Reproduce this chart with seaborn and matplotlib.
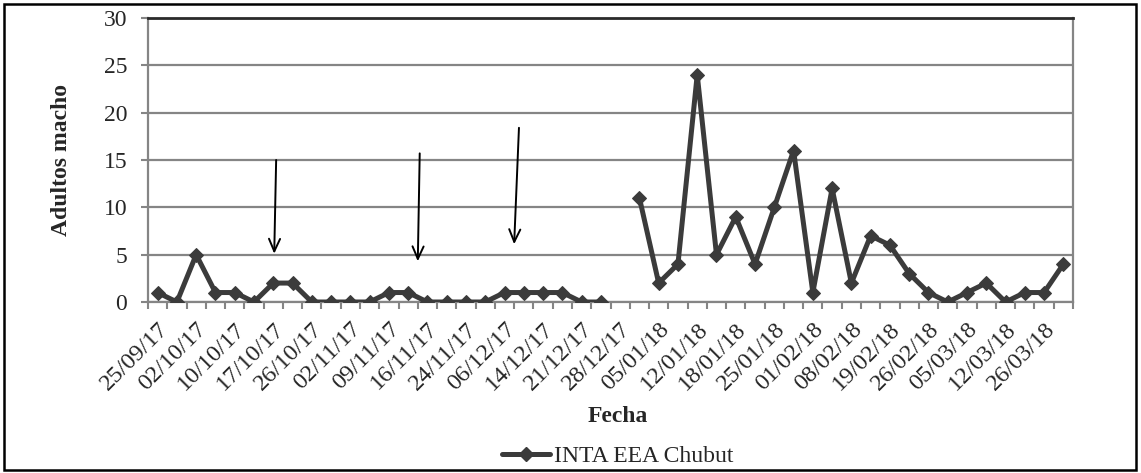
import numpy as np
import pandas as pd
import matplotlib
matplotlib.use("Agg")
import matplotlib.pyplot as plt
from matplotlib.lines import Line2D
from matplotlib.patches import Rectangle
import seaborn as sns

# Fechas rotuladas (una de cada dos fechas de muestreo)
etiquetas = ["25/09/17", "02/10/17", "10/10/17", "17/10/17", "26/10/17", "02/11/17",
             "09/11/17", "16/11/17", "24/11/17", "06/12/17", "14/12/17", "21/12/17",
             "28/12/17", "05/01/18", "12/01/18", "18/01/18", "25/01/18", "01/02/18",
             "08/02/18", "19/02/18", "26/02/18", "05/03/18", "12/03/18", "26/03/18"]

# Adultos macho capturados por muestreo (sin dato el 28/12/17)
adultos = [1, 0, 5, 1, 1, 0, 2, 2, 0, 0, 0, 0, 1, 1, 0, 0, 0, 0, 1, 1, 1, 1, 0, 0,
           np.nan, 11, 2, 4, 24, 5, 9, 4, 10, 16, 1, 12, 2, 7, 6, 3, 1, 0, 1, 2, 0, 1, 1, 4]

serie = "INTA EEA Chubut"

# Flechas (x_inicio, y_inicio, x_punta, y_punta) en unidades del grafico
flechas = [(6.15, 15.0, 6.05, 5.1),
           (13.6, 15.7, 13.5, 4.3),
           (18.75, 18.4, 18.5, 6.1)]

df = pd.DataFrame({"pos": np.arange(len(adultos)), "adultos": adultos})
# cada tramo continuo se dibuja por separado para dejar el hueco sin dato
df["tramo"] = df["adultos"].isna().cumsum()
df = df.dropna()

sns.set_style("white")
plt.rcParams["font.family"] = ["Liberation Serif", "DejaVu Serif"]

W, H = 1141, 473
fig = plt.figure(figsize=(W / 100, H / 100), dpi=100)
ax = fig.add_axes([148 / W, 1 - 302 / H, (1073 - 148) / W, (302 - 18) / H])

gris = "#858585"
color_linea = "#3b3b3b"

sns.lineplot(data=df, x="pos", y="adultos", units="tramo", estimator=None,
             color=color_linea, linewidth=3.6, marker="D", markersize=7.5,
             markeredgecolor=color_linea, ax=ax, legend=False, zorder=3)

ax.set_xlim(-0.5, len(adultos) - 0.5)
ax.set_ylim(0, 30)
ax.set_yticks(np.arange(0, 31, 5))
ax.yaxis.grid(True, color=gris, linewidth=1.6)
ax.set_axisbelow(True)

ax.set_xticks(np.arange(len(adultos))[::2])
ax.set_xticklabels(etiquetas, rotation=45, ha="right", va="top", rotation_mode="anchor")
ax.set_xticks(np.arange(-0.5, len(adultos), 1), minor=True)
ax.tick_params(axis="x", which="major", length=0, pad=12, labelsize=17.5)
ax.tick_params(axis="x", which="minor", length=5, width=1.5, color=gris, direction="out", bottom=True)
ax.tick_params(axis="y", length=5, width=1.5, color=gris, direction="out", pad=10, labelsize=17, left=True)

for lado in ["left", "right", "bottom"]:
    ax.spines[lado].set_color(gris)
    ax.spines[lado].set_linewidth(1.6)
ax.spines["top"].set_color("#2a2a2a")
ax.spines["top"].set_linewidth(2)

ax.set_xlabel("Fecha", fontsize=17, fontweight="bold")
ax.xaxis.set_label_coords(0.508, -0.365)
ax.set_ylabel("Adultos macho", fontsize=17, fontweight="bold")
ax.yaxis.set_label_coords(-0.082, 0.5)

for x0, y0, x1, y1 in flechas:
    ax.annotate("", xy=(x1, y1), xytext=(x0, y0),
                arrowprops=dict(arrowstyle="->,head_length=0.9,head_width=0.4",
                                color="black", lw=1.4, shrinkA=0, shrinkB=0),
                zorder=4)

handle = Line2D([], [], color=color_linea, linewidth=3.6, marker="D", markersize=7.5)
fig.legend([handle], [serie], loc="center", bbox_to_anchor=(618 / W, 1 - 456 / H),
           frameon=False, fontsize=17, handlelength=2.0, handletextpad=0.2)

fig.add_artist(Rectangle((4 / W, 3 / H), (1136 - 4) / W, (469 - 3) / H,
                         transform=fig.transFigure, fill=False,
                         edgecolor="black", linewidth=1.8))

fig.savefig("out.png", dpi=100)
